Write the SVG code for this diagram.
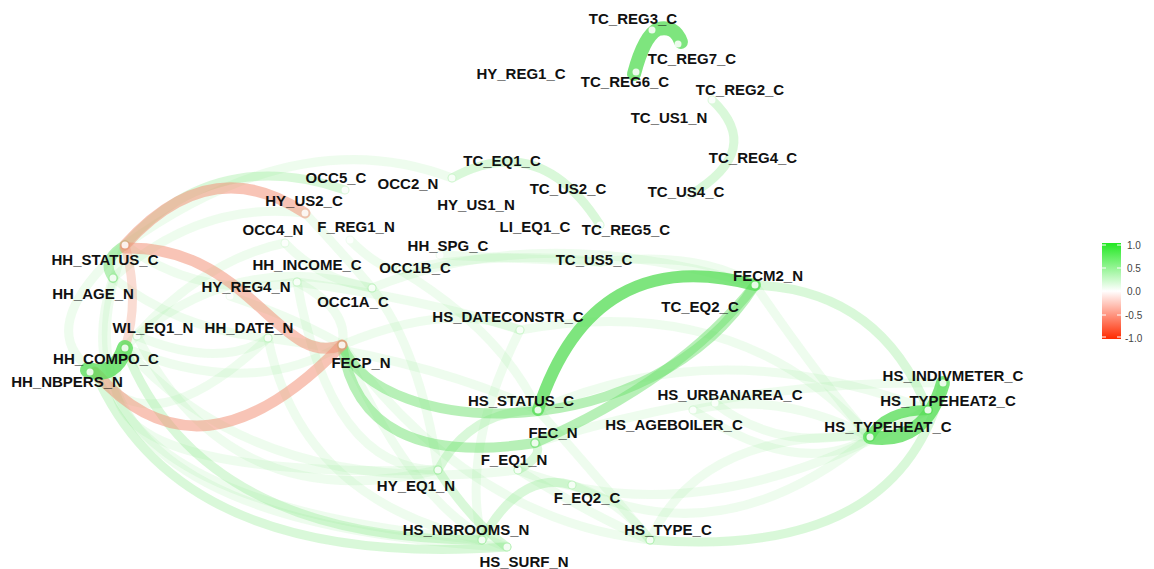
<svg xmlns="http://www.w3.org/2000/svg" width="1154" height="569" viewBox="0 0 1154 569">
<defs>
<linearGradient id="leg" x1="0" y1="0" x2="0" y2="1">
<stop offset="0" stop-color="#22e822"/>
<stop offset="0.5" stop-color="#ffffff"/>
<stop offset="1" stop-color="#ff2a00"/>
</linearGradient>
</defs>
<style>
.e{fill:none;stroke-linecap:round}
.s{stroke:#5ade5a;stroke-opacity:.78;stroke-width:12}
.m{stroke:#70e270;stroke-opacity:.5;stroke-width:10}
.l{stroke:#88ea88;stroke-opacity:.32;stroke-width:9}
.f{stroke:#98ee98;stroke-opacity:.17;stroke-width:9}
.rr{stroke:#f2937a;stroke-opacity:.55;stroke-width:11}
.rl{stroke:#f3a28c;stroke-opacity:.38;stroke-width:9}
.d{fill:#fff;fill-opacity:.85}
text{font-family:"Liberation Sans",Arial,sans-serif;font-weight:bold;font-size:15px;fill:#111;text-anchor:middle}
.lg{font-weight:normal;font-size:10px;fill:#444;text-anchor:start}
</style>
<rect width="1154" height="569" fill="#fff"/>
<g id="connectors">
<path class="e f" d="M125,245 Q20,520 507,547"/>
<path class="e f" d="M113,278 Q40,500 482,540"/>
<path class="e f" d="M125,348 Q60,480 438,470"/>
<path class="e f" d="M125,245 Q30,330 95,372"/>
<path class="e l" d="M125,348 Q200,540 482,540"/>
<path class="e l" d="M95,372 Q180,570 507,547"/>
<path class="e f" d="M137,336 Q230,520 438,470"/>
<path class="e f" d="M125,348 Q260,500 518,470"/>
<path class="e f" d="M268,338 Q300,500 482,540"/>
<path class="e f" d="M297,282 Q330,470 438,470"/>
<path class="e f" d="M342,345 Q420,520 507,547"/>
<path class="e f" d="M342,345 Q470,520 650,540"/>
<path class="e l" d="M438,470 Q470,520 507,547"/>
<path class="e l" d="M482,540 Q520,470 572,485"/>
<path class="e f" d="M518,470 Q600,520 650,540"/>
<path class="e f" d="M572,485 Q620,500 650,540"/>
<path class="e l" d="M438,470 Q470,410 538,410"/>
<path class="e f" d="M650,540 Q700,430 870,437"/>
<path class="e f" d="M693,410 Q800,480 870,437"/>
<path class="e f" d="M715,403 Q800,470 928,410"/>
<path class="e f" d="M572,485 Q720,560 870,437"/>
<path class="e f" d="M518,470 Q700,540 928,410"/>
<path class="e f" d="M520,330 Q740,290 870,437"/>
<path class="e f" d="M538,410 Q720,330 928,410"/>
<path class="e f" d="M535,443 Q740,380 943,383"/>
<path class="e f" d="M372,288 Q540,220 755,285"/>
<path class="e f" d="M400,270 Q500,250 600,262"/>
<path class="e f" d="M342,345 Q450,300 520,330"/>
<path class="e f" d="M268,338 Q430,360 538,410"/>
<path class="e f" d="M297,282 Q430,300 520,330"/>
<path class="e f" d="M125,348 Q250,400 342,345"/>
<path class="e f" d="M137,336 Q220,370 268,338"/>
<path class="e f" d="M113,278 Q180,330 268,338"/>
<path class="e f" d="M125,245 Q200,300 297,282"/>
<path class="e f" d="M125,348 Q200,260 285,243"/>
<path class="e f" d="M113,278 Q200,200 305,213"/>
<path class="e f" d="M137,336 Q240,250 372,288"/>
<path class="e f" d="M305,213 Q340,250 372,288"/>
<path class="e f" d="M285,243 Q320,280 372,288"/>
<path class="e f" d="M297,282 Q350,310 342,345"/>
<path class="e f" d="M230,296 Q300,320 342,345"/>
<path class="e f" d="M350,240 Q380,270 400,270"/>
<path class="e f" d="M372,288 Q420,350 438,470"/>
<path class="e f" d="M400,270 Q500,330 538,410"/>
<path class="e f" d="M125,245 Q300,120 452,178"/>
<path class="e f" d="M95,372 Q150,450 268,338"/>
<path class="e f" d="M755,285 Q820,380 870,437"/>
<path class="e f" d="M693,410 Q780,390 870,437"/>
<path class="e f" d="M538,410 Q600,480 650,540"/>
<path class="e f" d="M520,330 Q460,450 482,540"/>
<path class="e f" d="M600,262 Q700,250 755,285"/>
<path class="e f" d="M440,255 Q550,260 600,262"/>
<path class="e l" d="M518,470 Q545,455 535,443"/>
<path class="e l" d="M125,245 Q215,145 345,190"/>
<path class="e l" d="M712,100 Q765,150 690,195"/>
<path class="e l" d="M452,178 Q540,130 600,225"/>
<path class="e l" d="M755,285 Q880,290 928,410"/>
<path class="e l" d="M943,383 Q900,560 650,540"/>
<path class="e m" d="M342,345 C380,440 650,450 755,285"/>
<path class="e m" d="M342,345 Q360,470 535,443"/>
<path class="e m" d="M755,285 Q680,380 535,443"/>
<path class="e m" d="M125,245 Q100,260 113,278"/>
<path class="e rl" d="M125,245 Q140,300 125,348"/>
<path class="e rr" d="M125,245 Q210,150 305,213"/>
<path class="e rr" d="M125,248 C250,245 280,370 342,345"/>
<path class="e rr" d="M95,372 Q200,492 342,345"/>
<path class="e s" d="M755,285 Q593,242 538,410"/>
<path class="e s" style="stroke-width:16" d="M88,370 Q115,378 125,348"/>
<path class="e s" style="stroke-width:14" d="M634,74 Q644,36 658,29 Q675,25 681,42"/>
<path class="e s" style="stroke-width:14" d="M870,437 Q925,445 943,383"/>
<path class="e s" style="stroke-width:10" d="M870,437 Q885,410 928,410"/>
</g>
<g id="n-TC_REG3_C"><circle class="d" cx="652" cy="30" r="3.5"/><text x="633" y="24">TC_REG3_C</text></g>
<g id="n-TC_REG7_C"><circle class="d" cx="678" cy="44" r="3.5"/><text x="692" y="64">TC_REG7_C</text></g>
<g id="n-HY_REG1_C"><circle class="d" cx="560" cy="85" r="3.5"/><text x="521" y="79">HY_REG1_C</text></g>
<g id="n-TC_REG6_C"><circle class="d" cx="636" cy="72" r="3.5"/><text x="625" y="87">TC_REG6_C</text></g>
<g id="n-TC_REG2_C"><circle class="d" cx="712" cy="100" r="3.5"/><text x="740" y="95">TC_REG2_C</text></g>
<g id="n-TC_US1_N"><circle class="d" cx="700" cy="128" r="3.5"/><text x="669" y="123">TC_US1_N</text></g>
<g id="n-TC_REG4_C"><circle class="d" cx="722" cy="150" r="3.5"/><text x="753" y="163">TC_REG4_C</text></g>
<g id="n-TC_EQ1_C"><circle class="d" cx="452" cy="178" r="3.5"/><text x="502" y="166">TC_EQ1_C</text></g>
<g id="n-OCC5_C"><circle class="d" cx="345" cy="190" r="3.5"/><text x="336" y="183">OCC5_C</text></g>
<g id="n-OCC2_N"><circle class="d" cx="400" cy="195" r="3.5"/><text x="408" y="189">OCC2_N</text></g>
<g id="n-TC_US2_C"><circle class="d" cx="560" cy="200" r="3.5"/><text x="568" y="194">TC_US2_C</text></g>
<g id="n-TC_US4_C"><circle class="d" cx="690" cy="195" r="3.5"/><text x="686" y="197">TC_US4_C</text></g>
<g id="n-HY_US2_C"><circle class="d" cx="305" cy="213" r="3.5"/><text x="304" y="206">HY_US2_C</text></g>
<g id="n-HY_US1_N"><circle class="d" cx="470" cy="215" r="3.5"/><text x="476" y="210">HY_US1_N</text></g>
<g id="n-OCC4_N"><circle class="d" cx="285" cy="243" r="3.5"/><text x="273" y="235">OCC4_N</text></g>
<g id="n-F_REG1_N"><circle class="d" cx="350" cy="240" r="3.5"/><text x="356" y="232">F_REG1_N</text></g>
<g id="n-LI_EQ1_C"><circle class="d" cx="520" cy="240" r="3.5"/><text x="535" y="232">LI_EQ1_C</text></g>
<g id="n-TC_REG5_C"><circle class="d" cx="600" cy="225" r="3.5"/><text x="626" y="235">TC_REG5_C</text></g>
<g id="n-HH_SPG_C"><circle class="d" cx="440" cy="255" r="3.5"/><text x="448" y="251">HH_SPG_C</text></g>
<g id="n-HH_STATUS_C"><circle class="d" cx="125" cy="245" r="3.5"/><text x="105" y="265">HH_STATUS_C</text></g>
<g id="n-TC_US5_C"><circle class="d" cx="600" cy="262" r="3.5"/><text x="594" y="265">TC_US5_C</text></g>
<g id="n-HH_INCOME_C"><circle class="d" cx="297" cy="282" r="3.5"/><text x="307" y="270">HH_INCOME_C</text></g>
<g id="n-OCC1B_C"><circle class="d" cx="400" cy="270" r="3.5"/><text x="415" y="273">OCC1B_C</text></g>
<g id="n-FECM2_N"><circle class="d" cx="755" cy="285" r="3.5"/><text x="768" y="281">FECM2_N</text></g>
<g id="n-HH_AGE_N"><circle class="d" cx="113" cy="278" r="3.5"/><text x="93" y="299">HH_AGE_N</text></g>
<g id="n-HY_REG4_N"><circle class="d" cx="230" cy="296" r="3.5"/><text x="246" y="292">HY_REG4_N</text></g>
<g id="n-OCC1A_C"><circle class="d" cx="372" cy="288" r="3.5"/><text x="353" y="307">OCC1A_C</text></g>
<g id="n-TC_EQ2_C"><circle class="d" cx="690" cy="320" r="3.5"/><text x="700" y="312">TC_EQ2_C</text></g>
<g id="n-HS_DATECONSTR_C"><circle class="d" cx="520" cy="330" r="3.5"/><text x="508" y="322">HS_DATECONSTR_C</text></g>
<g id="n-WL_EQ1_N"><circle class="d" cx="137" cy="336" r="3.5"/><text x="153" y="333">WL_EQ1_N</text></g>
<g id="n-HH_DATE_N"><circle class="d" cx="268" cy="338" r="3.5"/><text x="249" y="333">HH_DATE_N</text></g>
<g id="n-HH_COMPO_C"><circle class="d" cx="125" cy="348" r="3.5"/><text x="106" y="364">HH_COMPO_C</text></g>
<g id="n-FECP_N"><circle class="d" cx="342" cy="345" r="3.5"/><text x="361" y="368">FECP_N</text></g>
<g id="n-HH_NBPERS_N"><circle class="d" cx="90" cy="372" r="3.5"/><text x="67" y="387">HH_NBPERS_N</text></g>
<g id="n-HS_INDIVMETER_C"><circle class="d" cx="943" cy="383" r="3.5"/><text x="953" y="381">HS_INDIVMETER_C</text></g>
<g id="n-HS_URBANAREA_C"><circle class="d" cx="693" cy="410" r="3.5"/><text x="730" y="400">HS_URBANAREA_C</text></g>
<g id="n-HS_STATUS_C"><circle class="d" cx="538" cy="410" r="3.5"/><text x="521" y="406">HS_STATUS_C</text></g>
<g id="n-HS_TYPEHEAT2_C"><circle class="d" cx="928" cy="410" r="3.5"/><text x="948" y="406">HS_TYPEHEAT2_C</text></g>
<g id="n-HS_AGEBOILER_C"><circle class="d" cx="715" cy="403" r="3.5"/><text x="674" y="430">HS_AGEBOILER_C</text></g>
<g id="n-HS_TYPEHEAT_C"><circle class="d" cx="870" cy="437" r="3.5"/><text x="888" y="432">HS_TYPEHEAT_C</text></g>
<g id="n-FEC_N"><circle class="d" cx="535" cy="443" r="3.5"/><text x="553" y="438">FEC_N</text></g>
<g id="n-F_EQ1_N"><circle class="d" cx="518" cy="470" r="3.5"/><text x="514" y="465">F_EQ1_N</text></g>
<g id="n-HY_EQ1_N"><circle class="d" cx="438" cy="470" r="3.5"/><text x="416" y="491">HY_EQ1_N</text></g>
<g id="n-F_EQ2_C"><circle class="d" cx="572" cy="485" r="3.5"/><text x="587" y="503">F_EQ2_C</text></g>
<g id="n-HS_NBROOMS_N"><circle class="d" cx="482" cy="540" r="3.5"/><text x="466" y="535">HS_NBROOMS_N</text></g>
<g id="n-HS_TYPE_C"><circle class="d" cx="650" cy="540" r="3.5"/><text x="668" y="535">HS_TYPE_C</text></g>
<g id="n-HS_SURF_N"><circle class="d" cx="507" cy="547" r="3.5"/><text x="524" y="567">HS_SURF_N</text></g>
<g id="legend">
<rect x="1102" y="243" width="19" height="96" fill="url(#leg)"/>
<g stroke="#fff" stroke-width="1">
<line x1="1102" y1="245" x2="1106" y2="245"/><line x1="1117" y1="245" x2="1121" y2="245"/>
<line x1="1102" y1="268" x2="1106" y2="268"/><line x1="1117" y1="268" x2="1121" y2="268"/>
<line x1="1102" y1="291" x2="1106" y2="291"/><line x1="1117" y1="291" x2="1121" y2="291"/>
<line x1="1102" y1="315" x2="1106" y2="315"/><line x1="1117" y1="315" x2="1121" y2="315"/>
<line x1="1102" y1="337" x2="1106" y2="337"/><line x1="1117" y1="337" x2="1121" y2="337"/>
</g>
<text class="lg" x="1127" y="249">1.0</text>
<text class="lg" x="1127" y="272">0.5</text>
<text class="lg" x="1127" y="295">0.0</text>
<text class="lg" x="1125" y="319">-0.5</text>
<text class="lg" x="1125" y="342">-1.0</text>
</g>
</svg>
